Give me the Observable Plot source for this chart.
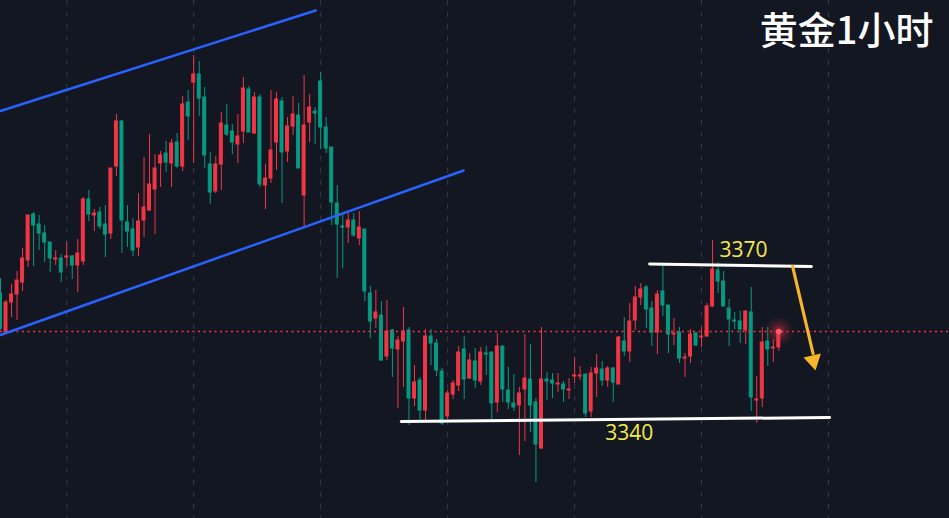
<!DOCTYPE html>
<html><head><meta charset="utf-8">
<script src="https://cdn.jsdelivr.net/npm/d3@7"></script>
<script src="https://cdn.jsdelivr.net/npm/@observablehq/plot@0.6"></script>
<style>
html,body{margin:0;padding:0;background:#131722;}
#chart{width:949px;height:518px;overflow:hidden;}
</style></head><body><div id="chart"></div>
<script>
// Gold 1-hour candles (price), Chinese convention: red = up, green = down
const opens=[3365.0,3357.2,3363.2,3364.8,3367.2,3371.6,3380.8,3378.8,3377.0,3375.2,3371.8,3372.0,3372.2,3372.4,3370.6,3371.4,3383.8,3380.6,3381.2,3378.8,
3377.0,3390.4,3399.4,3379.2,3377.8,3374.2,3379.6,3381.6,3385.8,3391.0,3393.0,3391.0,3395.2,3390.4,3403.2,3407.2,3408.8,3404.2,3390.8,3385.4,
3390.8,3398.6,3397.4,3394.8,3397.4,3405.8,3397.0,3404.2,3386.6,3388.0,3395.2,3403.4,3393.4,3398.4,3400.6,3384.6,3399.2,3401.4,3407.4,3398.2,
3394.2,3383.0,3378.4,3378.2,3379.6,3376.0,3377.8,3365.0,3360.0,3360.6,3352.4,3357.6,3353.8,3355.4,3357.6,3344.0,3347.6,3341.6,3356.4,3355.0,
3349.4,3340.4,3344.8,3346.6,3353.8,3348.0,3351.4,3347.4,3353.0,3353.2,3343.2,3354.4,3345.6,3343.0,3342.6,3345.8,3347.8,3343.2,3334.0,3347.8,
3347.6,3346.8,3346.8,3345.6,3348.4,3348.4,3348.8,3341.4,3349.0,3349.8,3347.6,3350.0,3346.8,3355.4,3353.4,3359.6,3364.2,3366.2,3362.0,3357.2,
3365.4,3362.6,3356.8,3357.2,3352.0,3352.4,3357.0,3356.2,3356.4,3362.4,3369.6,3367.4,3362.0,3359.6,3359.4,3357.6,3361.2,3343.6,3344.0,3355.4,
3354.0,3354.2];
const highs=[3368.0,3363.6,3366.8,3369.4,3374.0,3380.6,3381.2,3380.6,3378.6,3375.2,3373.6,3372.8,3375.2,3372.6,3375.8,3384.2,3385.6,3381.8,3382.2,3382.6,
3390.0,3400.8,3399.6,3382.6,3380.0,3385.0,3392.2,3396.8,3392.8,3393.4,3395.4,3395.8,3397.0,3404.4,3405.6,3412.6,3411.4,3406.2,3393.2,3392.4,
3401.2,3402.8,3398.8,3400.8,3408.2,3406.4,3405.2,3404.8,3390.8,3405.6,3405.2,3404.2,3400.2,3404.4,3403.0,3408.6,3404.8,3402.2,3409.2,3400.2,
3394.2,3386.6,3380.6,3381.0,3381.0,3381.4,3377.8,3366.4,3365.6,3363.4,3363.6,3357.8,3356.4,3362.2,3358.2,3350.6,3348.2,3357.8,3357.8,3355.8,
3350.0,3345.6,3347.6,3354.4,3356.4,3353.0,3354.0,3354.2,3354.4,3353.2,3357.0,3354.4,3350.2,3348.8,3346.2,3356.8,3354.8,3344.0,3358.2,3349.2,
3349.0,3349.0,3347.4,3348.0,3352.2,3350.4,3348.8,3350.2,3352.8,3351.4,3350.4,3350.2,3356.4,3360.2,3363.0,3366.4,3367.0,3366.6,3363.4,3365.6,
3370.6,3362.6,3360.0,3358.2,3353.0,3357.8,3357.2,3358.2,3363.0,3375.6,3371.2,3369.4,3363.8,3361.2,3361.4,3361.6,3366.2,3348.4,3358.2,3358.2,
3355.8,3357.6];
const lows=[3357.6,3356.8,3360.2,3359.6,3365.4,3370.2,3370.4,3373.6,3371.2,3369.2,3370.6,3367.2,3370.4,3367.8,3365.2,3370.6,3379.4,3377.4,3377.8,3372.2,
3375.8,3388.4,3373.0,3374.2,3372.4,3372.4,3376.2,3381.4,3376.8,3386.2,3389.2,3386.2,3390.0,3389.4,3395.6,3391.0,3400.4,3390.0,3382.8,3385.0,
3385.6,3396.4,3392.8,3391.0,3395.0,3397.2,3396.8,3386.2,3381.8,3387.0,3389.6,3383.0,3391.2,3396.6,3390.0,3378.2,3395.2,3394.8,3393.8,3393.0,
3378.6,3368.0,3370.0,3375.0,3376.2,3374.6,3363.4,3356.0,3358.0,3351.4,3351.6,3348.2,3342.0,3346.2,3338.6,3342.4,3339.6,3339.6,3350.6,3348.4,
3338.6,3339.8,3343.8,3345.4,3343.8,3347.8,3346.0,3346.6,3348.6,3339.8,3341.2,3343.2,3341.8,3341.4,3332.6,3335.4,3337.2,3327.2,3333.8,3343.6,
3344.0,3345.2,3343.2,3343.8,3347.0,3347.6,3340.2,3340.2,3344.2,3346.4,3346.2,3343.2,3346.8,3352.4,3351.2,3357.6,3362.6,3358.0,3354.4,3352.8,
3360.4,3353.0,3354.6,3351.0,3348.2,3351.0,3354.4,3354.2,3356.2,3362.2,3365.0,3362.4,3354.4,3357.8,3355.0,3354.8,3341.4,3339.0,3342.2,3350.4,
3351.2,3353.4];
const closes=[3358.0,3363.2,3364.8,3367.6,3372.0,3380.6,3378.6,3377.0,3375.2,3372.0,3372.0,3369.2,3372.4,3370.6,3373.0,3383.8,3380.8,3381.0,3378.4,3376.8,
3390.0,3399.4,3379.6,3377.4,3373.6,3379.4,3382.2,3386.8,3390.0,3392.6,3391.2,3395.0,3390.4,3402.8,3400.4,3408.8,3404.0,3392.6,3385.2,3390.8,
3399.0,3396.8,3395.2,3396.4,3406.0,3397.2,3404.2,3386.8,3388.0,3393.6,3403.8,3393.2,3398.4,3400.8,3390.0,3398.6,3402.2,3401.0,3398.2,3394.0,
3383.2,3378.8,3378.2,3379.6,3376.6,3378.2,3365.4,3359.4,3361.2,3351.6,3357.4,3354.0,3355.6,3357.4,3344.0,3347.2,3341.6,3356.4,3355.0,3349.6,
3339.0,3345.0,3347.0,3353.2,3347.8,3351.6,3347.6,3353.2,3352.8,3343.0,3354.4,3345.8,3343.2,3342.2,3345.0,3348.0,3342.6,3334.8,3347.8,3347.4,
3347.0,3347.0,3345.8,3345.8,3348.6,3348.6,3341.0,3349.0,3350.0,3347.6,3350.0,3347.2,3356.2,3353.4,3359.4,3364.2,3365.8,3361.8,3357.2,3364.8,
3362.6,3356.8,3357.0,3352.0,3352.2,3356.8,3354.6,3356.4,3362.4,3369.8,3367.4,3362.4,3359.8,3359.4,3357.8,3361.4,3344.2,3343.8,3355.2,3353.8,
3354.2,3357.4];

const title = "黄金1小时";
const dayBreaks = [12, 35, 58, 81, 104, 127, 150];       // candle index of each day separator
const channelUpper = [[0, 3401.5], [57.1, 3421.6]];       // [candle index, price]
const channelLower = [[0, 3356.7], [83.9, 3389.6]];
const resistance = [[117.6, 3370.9], [146.9, 3370.4]];
const support = [[72.6, 3339.4], [150.2, 3340.2]];
const levelLabels = ["3370", "3340"];
const levelLabelPos = [[134.6, 3373.6], [113.9, 3337.0]];
const arrowShaft = [[143.5, 3370.4], [147.2, 3353.0]];
const arrowHead = [[147.25, 3351.6]];

const RED = "#F23645", GREEN = "#089981", GOLD = "#F7B52C";
const candles = opens.map((o, i) => ({i, o, h: highs[i], l: lows[i], c: closes[i], col: closes[i] >= o ? RED : GREEN}));
const last = candles[candles.length - 1];
const labels = levelLabels.map((t, k) => ({t, x: levelLabelPos[k][0], y: levelLabelPos[k][1]}));
const glow = [14, 11, 8, 5.5].map((r, k) => ({i: last.i, c: last.c, r, op: [0.07, 0.09, 0.13, 0.2][k]}));

const chart = Plot.plot({
  width: 949, height: 518, margin: 0,
  x: {domain: [0, 949 / 5.52], axis: null},
  y: {domain: [3320, 3423.6], axis: null},
  color: {type: "identity"},
  r: {type: "identity"},
  style: {background: "#131722", overflow: "hidden"},
  marks: [
    Plot.ruleX(dayBreaks, {x: d => d, stroke: "#363a45", strokeDasharray: "5,7", strokeWidth: 1}),
    Plot.ruleX(candles, {x: "i", y1: "l", y2: "h", stroke: "col", strokeWidth: 1}),
    Plot.rect(candles, {x1: d => d.i - 0.27, x2: d => d.i + 0.27, y1: "o", y2: "c", fill: "col", stroke: "col", strokeWidth: 1}),
    Plot.ruleY([last.c], {y: d => d, stroke: RED, strokeDasharray: "2,3.5", strokeWidth: 1.5}),
    Plot.line(channelUpper, {x: d => d[0], y: d => d[1], stroke: "#2962FF", strokeWidth: 2.5}),
    Plot.line(channelLower, {x: d => d[0], y: d => d[1], stroke: "#2962FF", strokeWidth: 2.5}),
    Plot.line(resistance, {x: d => d[0], y: d => d[1], stroke: "#ffffff", strokeWidth: 3}),
    Plot.line(support, {x: d => d[0], y: d => d[1], stroke: "#ffffff", strokeWidth: 3}),
    Plot.text(labels, {x: "x", y: "y", text: "t", fill: "#F5E94C", fontSize: 21, fontFamily: "'Open Sans', Lato, sans-serif", textAnchor: "middle"}),
    Plot.line(arrowShaft, {x: d => d[0], y: d => d[1], stroke: GOLD, strokeWidth: 3.2}),
    Plot.dot(arrowHead, {x: d => d[0], y: d => d[1], symbol: "triangle", r: 6.6, fill: GOLD, stroke: "none", rotate: 167.4}),
    Plot.dot(glow, {x: "i", y: "c", r: "r", fill: RED, fillOpacity: "op", stroke: "none"}),
    Plot.dot([last], {x: "i", y: "c", r: 2.8, fill: "#ff5d6c", stroke: "none"}),
    Plot.text([title], {text: d => d, frameAnchor: "top-right", dx: -16, dy: 17, lineAnchor: "top", fill: "#ffffff", fontSize: 38, fontWeight: 500, fontFamily: "'Noto Sans CJK SC', sans-serif"})
  ]
});
document.getElementById("chart").appendChild(chart);
</script>
</body></html>
